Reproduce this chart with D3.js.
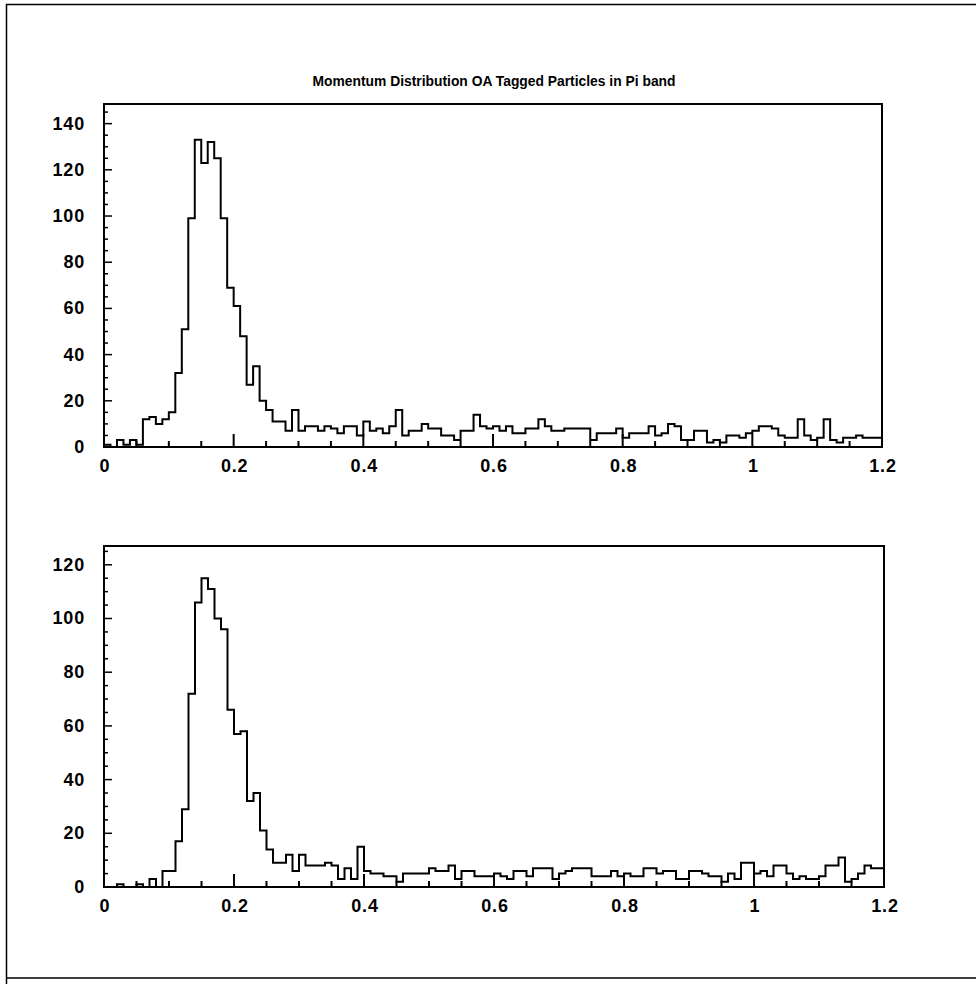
<!DOCTYPE html>
<html>
<head>
<meta charset="utf-8">
<script src="https://cdn.jsdelivr.net/npm/d3@7"></script>
<style>
  body { margin: 0; background: #fff; }
  svg text { font-family: "Liberation Sans", Arial, sans-serif; font-weight: bold; fill: #000; }
</style>
</head>
<body>
<svg id="chart"></svg>
<script>
// histogram data, 0.01 wide bins from 0 to 1.2
const title = "Momentum Distribution OA Tagged Particles in Pi band";
const binLow = 0;
const binWidth = 0.01;

const topCounts = [
  1, 0, 3, 1, 3, 1, 12, 13, 10, 12,
  15, 32, 51, 99, 133, 123, 132, 125, 99, 69,
  61, 48, 27, 35, 20, 16, 11, 11, 7, 16,
  7, 9, 9, 7, 9, 8, 6, 9, 9, 5,
  11, 7, 8, 6, 9, 16, 5, 7, 7, 10,
  8, 8, 5, 5, 3, 7, 7, 14, 9, 8,
  9, 7, 9, 6, 6, 8, 8, 12, 9, 7,
  7, 8, 8, 8, 8, 3, 6, 6, 6, 8,
  4, 6, 6, 6, 9, 5, 6, 10, 9, 3,
  3, 7, 7, 2, 3, 2, 5, 5, 4, 6,
  7, 9, 9, 8, 5, 4, 4, 12, 5, 3,
  4, 12, 3, 2, 4, 4, 5, 4, 4, 4
];

const bottomCounts = [
  0, 0, 1, 0, 0, 1, 0, 3, 0, 6,
  6, 17, 29, 72, 106, 115, 111, 100, 96, 66,
  57, 58, 32, 35, 21, 14, 9, 9, 12, 6,
  12, 8, 8, 8, 9, 8, 3, 7, 3, 15,
  6, 5, 5, 4, 4, 2, 5, 5, 5, 5,
  7, 6, 6, 8, 3, 6, 6, 4, 4, 4,
  5, 4, 3, 6, 6, 4, 7, 7, 7, 3,
  5, 6, 7, 7, 7, 4, 4, 4, 6, 4,
  5, 4, 4, 7, 7, 5, 6, 6, 3, 3,
  6, 6, 5, 4, 4, 2, 5, 3, 9, 9,
  5, 6, 4, 8, 8, 5, 3, 4, 3, 3,
  4, 8, 8, 11, 2, 3, 5, 8, 7, 7
];

const xTicks = [0, 0.2, 0.4, 0.6, 0.8, 1, 1.2];
const xTickLabels = ["0", "0.2", "0.4", "0.6", "0.8", "1", "1.2"];
const topYTicks = [0, 20, 40, 60, 80, 100, 120, 140];
const bottomYTicks = [0, 20, 40, 60, 80, 100, 120];

const width = 976, height = 984;

const svg = d3.select("#chart")
    .attr("width", width)
    .attr("height", height);

svg.append("rect").attr("width", width).attr("height", height).attr("fill", "#fff");

// outer page frame
svg.append("path")
    .attr("d", "M976,4.5H6.5V984M6.5,978H976")
    .attr("fill", "none")
    .attr("stroke", "#000")
    .attr("stroke-width", 1.5);

svg.append("text")
    .attr("x", 494)
    .attr("y", 86)
    .attr("text-anchor", "middle")
    .attr("font-size", 14)
    .attr("textLength", 363)
    .attr("lengthAdjust", "spacingAndGlyphs")
    .text(title);

function drawPanel(box, counts, yMax, yTicks) {
    const x = d3.scaleLinear().domain([0, 1.2]).range([box.left, box.right]);
    const y = d3.scaleLinear().domain([0, yMax]).range([box.bottom, box.top]);
    const g = svg.append("g");

    // histogram as step line
    const pts = [[binLow, 0]];
    counts.forEach((c, i) => pts.push([binLow + i * binWidth, c]));
    pts.push([binLow + counts.length * binWidth, counts[counts.length - 1]]);

    const line = d3.line()
        .x(d => x(d[0]))
        .y(d => y(d[1]))
        .curve(d3.curveStepAfter);

    g.append("path")
        .attr("d", line(pts))
        .attr("fill", "none")
        .attr("stroke", "#000")
        .attr("stroke-width", 2);

    // x ticks pointing inward
    const xMinor = x.ticks(24);
    g.selectAll(".xminor").data(xMinor).enter().append("line")
        .attr("x1", d => x(d)).attr("x2", d => x(d))
        .attr("y1", box.bottom).attr("y2", d => box.bottom - (xTicks.some(t => Math.abs(t - d) < 1e-6) ? 13 : 6))
        .attr("stroke", "#000").attr("stroke-width", 2);

    // y ticks pointing inward
    const yMinor = d3.range(0, yMax, 5);
    g.selectAll(".yminor").data(yMinor).enter().append("line")
        .attr("y1", d => y(d)).attr("y2", d => y(d))
        .attr("x1", box.left).attr("x2", d => box.left + (d % 20 === 0 ? 8 : 4))
        .attr("stroke", "#000").attr("stroke-width", 1.5);

    // frame
    g.append("rect")
        .attr("x", box.left).attr("y", box.top)
        .attr("width", box.right - box.left)
        .attr("height", box.bottom - box.top)
        .attr("fill", "none")
        .attr("stroke", "#000")
        .attr("stroke-width", 2);

    g.selectAll(".xlab").data(xTicks).enter().append("text")
        .attr("x", d => x(d) + 1)
        .attr("y", box.bottom + 25)
        .attr("text-anchor", "middle")
        .attr("font-size", 18)
        .attr("letter-spacing", 0.8)
        .text((d, i) => xTickLabels[i]);

    g.selectAll(".ylab").data(yTicks).enter().append("text")
        .attr("x", box.left - 19)
        .attr("y", d => y(d) + 6)
        .attr("text-anchor", "end")
        .attr("font-size", 18)
        .attr("letter-spacing", 0.8)
        .text(d => d);
}

drawPanel({left: 104, right: 882, top: 104, bottom: 447}, topCounts, 148.5, topYTicks);
drawPanel({left: 104, right: 884, top: 546, bottom: 887}, bottomCounts, 127, bottomYTicks);
</script>
</body>
</html>
